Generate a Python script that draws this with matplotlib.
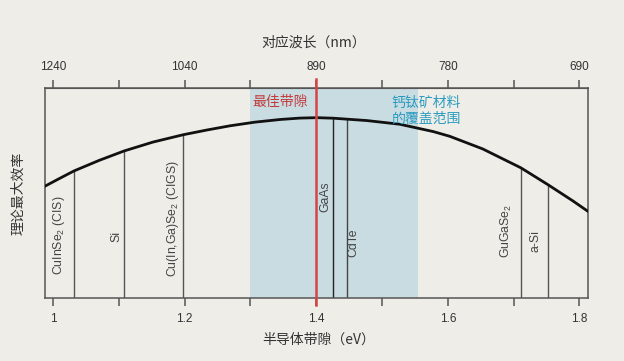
import matplotlib
matplotlib.use("Agg")
import matplotlib.pyplot as plt

plt.rcParams['font.family'] = ['Liberation Sans', 'Noto Sans CJK SC', 'DejaVu Sans']
plt.rcParams['mathtext.fontset'] = 'custom'
plt.rcParams['mathtext.rm'] = 'Liberation Sans'
plt.rcParams['mathtext.it'] = 'Liberation Sans:italic'

# theoretical max efficiency curve
gap_ev = [0.988, 1.009, 1.032, 1.070, 1.108, 1.152, 1.198, 1.234, 1.269, 1.307,
          1.345, 1.375, 1.401, 1.426, 1.477, 1.527, 1.578, 1.603, 1.653, 1.711,
          1.752, 1.790, 1.813]
efficiency = [21.3, 22.7, 24.2, 26.2, 28.0, 29.7, 31.1, 32.0, 32.8, 33.5,
              34.0, 34.27, 34.35, 34.25, 33.8, 33.1, 31.7, 30.8, 28.4, 24.8,
              21.6, 18.5, 16.5]

# materials
materials = ["CuInSe$_2$ (CIS)", "Si", "Cu(In,Ga)Se$_2$ (CIGS)", "GaAs", "CdTe",
             "GuGaSe$_2$", "a-Si"]
mat_gap = [1.032, 1.108, 1.198, 1.426, 1.447, 1.711, 1.752]
mat_eff = [24.2, 28.0, 31.1, 34.25, 34.1, 24.8, 21.6]

best_gap = 1.40
perovskite_range = [1.30, 1.555]

ev_ticks = [1.0, 1.1, 1.2, 1.3, 1.4, 1.5, 1.6, 1.7, 1.8]
ev_labels = ["1", "", "1.2", "", "1.4", "", "1.6", "", "1.8"]
nm_labels = ["1240", "", "1040", "", "890", "", "780", "", "690"]

bg = "#efede8"
fig = plt.figure(figsize=(6.24, 3.61), dpi=100, facecolor=bg)
ax = fig.add_axes([0.0721, 0.1745, 0.8702, 0.5817], facecolor=bg)

ax.axvspan(perovskite_range[0], perovskite_range[1], color="#c9dce2", lw=0, zorder=0)

line_colors = ["#555555", "#555555", "#555555", "#222222", "#444444", "#555555", "#555555"]
for g, e, c in zip(mat_gap, mat_eff, line_colors):
    ax.plot([g, g], [0, e], color=c, lw=1.0, zorder=2)

ax.plot(gap_ev, efficiency, color="#111111", lw=2.0, zorder=3,
        solid_capstyle="round", solid_joinstyle="round")

ax.axvline(best_gap, ymin=-0.035, ymax=1.045, color="#d64545", lw=1.8,
           clip_on=False, zorder=4)

# material labels
lab_font = dict(rotation=90, fontsize=8.8, color="#444444", family="Liberation Sans")
ax.text(1.0096, 4.4, materials[0], ha="center", va="bottom", **lab_font)
ax.text(1.097, 11.8, materials[1], ha="center", va="center", **lab_font)
ax.text(1.183, 4.0, materials[2], ha="center", va="bottom", **lab_font)
ax.text(1.4145, 16.4, materials[3], ha="center", va="bottom", **lab_font)
ax.text(1.456, 7.8, materials[4], ha="center", va="bottom", **lab_font)
ax.text(1.6885, 7.6, materials[5], ha="center", va="bottom", **lab_font)
ax.text(1.7335, 8.8, materials[6], ha="center", va="bottom", **lab_font)

ax.text(1.388, 37.4, "最佳带隙", color="#c23b3b", fontsize=10, ha="right", va="center",
        family="Noto Sans CJK SC")
ax.text(1.567, 35.6, "钙钛矿材料\n的覆盖范围", color="#2b9cc0", fontsize=10,
        ha="center", va="center", linespacing=1.15, family="Noto Sans CJK SC")

ax.set_xlim(0.988, 1.813)
ax.set_ylim(0, 40)
ax.set_yticks([])
ax.set_xticks(ev_ticks)
ax.set_xticklabels(ev_labels)
ax.tick_params(axis="x", direction="out", length=6, width=1.1, color="#555555",
               labelsize=8.5, labelcolor="#333333", pad=5)

top = ax.secondary_xaxis("top")
top.set_xticks(ev_ticks)
top.set_xticklabels(nm_labels)
top.tick_params(axis="x", direction="out", length=6, width=1.1, color="#555555",
                labelsize=8.5, labelcolor="#333333", pad=5)
top.spines["top"].set_color("#555555")

for s in ax.spines.values():
    s.set_color("#555555")
    s.set_linewidth(1.1)

fig.text(0.502, 0.882, "对应波长（nm）", ha="center", va="center", fontsize=10,
         color="#333333", family=["Noto Sans CJK SC", "Liberation Sans"])
fig.text(0.51, 0.058, "半导体带隙（eV）", ha="center", va="center", fontsize=10,
         color="#333333", family=["Noto Sans CJK SC", "Liberation Sans"])
fig.text(0.03, 0.465, "理论最大效率", ha="center", va="center", fontsize=10,
         rotation=90, color="#333333", family="Noto Sans CJK SC")

fig.savefig("out.png", dpi=100, facecolor=bg)
